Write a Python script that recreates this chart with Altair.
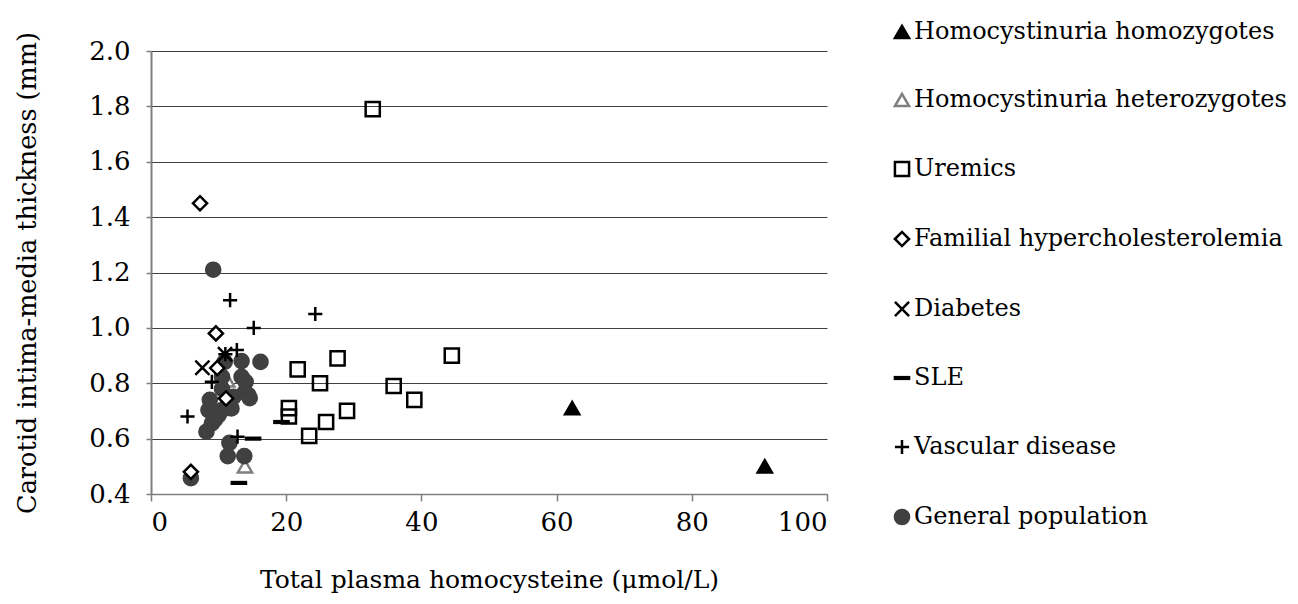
import altair as alt
import pandas as pd

FONT = "DejaVu Serif"

groups = [
    "Homocystinuria homozygotes",
    "Homocystinuria heterozygotes",
    "Uremics",
    "Familial hypercholesterolemia",
    "Diabetes",
    "SLE",
    "Vascular disease",
    "General population",
]

homo_x = [62.3, 90.8]
homo_y = [0.71, 0.50]

hetero_x = [11.3, 13.9]
hetero_y = [0.81, 0.50]

uremic_x = [32.8, 21.7, 27.6, 25.0, 35.9, 44.5, 38.95, 20.4, 20.4, 29.0, 25.9, 23.4]
uremic_y = [1.79, 0.85, 0.89, 0.80, 0.79, 0.90, 0.74, 0.71, 0.68, 0.70, 0.66, 0.61]

fh_x = [7.25, 9.6, 9.8, 11.1, 5.9]
fh_y = [1.45, 0.98, 0.855, 0.745, 0.48]

diab_x = [7.6, 10.95]
diab_y = [0.856, 0.905]

sle_x = [15.1, 19.3, 13.0]
sle_y = [0.60, 0.66, 0.44]

vasc_x = [11.7, 15.2, 24.3, 12.7, 11.0, 9.0, 5.4, 12.8]
vasc_y = [1.10, 1.00, 1.05, 0.92, 0.905, 0.805, 0.68, 0.607]

gen_x = [9.2, 16.2, 13.4, 10.9, 10.5, 13.4, 14.0, 10.5, 13.9, 14.4, 14.6, 12.2,
         8.7, 8.5, 11.9, 10.5, 10.0, 9.5, 9.0, 8.2, 11.6, 11.35, 13.8, 5.9, 11.4]
gen_y = [1.21, 0.877, 0.88, 0.877, 0.823, 0.823, 0.805, 0.78, 0.768, 0.757, 0.746, 0.751,
         0.74, 0.703, 0.709, 0.703, 0.685, 0.67, 0.655, 0.625, 0.585, 0.537, 0.537, 0.457, 0.725]

x_ticks = [0, 20, 40, 60, 80, 100]
y_ticks = [0.4, 0.6, 0.8, 1.0, 1.2, 1.4, 1.6, 1.8, 2.0]

X_PATH = "M-1,-1L1,1M-1,1L1,-1"
PLUS_PATH = "M-1,0L1,0M0,-1L0,1"
DASH_PATH = "M-1,-0.12L1,-0.12L1,0.12L-1,0.12Z"

shapes = ["triangle-up", "triangle-up", "square", "diamond", X_PATH, DASH_PATH, PLUS_PATH, "circle"]
fills = ["#000000", "#ffffff", "transparent", "#ffffff", "transparent", "#000000", "transparent", "#404040"]
strokes = ["#000000", "#7f7f7f", "#000000", "#000000", "#000000", "#000000", "#000000", "#404040"]
sizes = [200, 200, 169, 150, 169, 169, 210, 121]

series = {
    "Homocystinuria heterozygotes": (hetero_x, hetero_y),
    "General population": (gen_x, gen_y),
    "Homocystinuria homozygotes": (homo_x, homo_y),
    "Uremics": (uremic_x, uremic_y),
    "Familial hypercholesterolemia": (fh_x, fh_y),
    "Diabetes": (diab_x, diab_y),
    "SLE": (sle_x, sle_y),
    "Vascular disease": (vasc_x, vasc_y),
}

rows = []
for g, (xs, ys) in series.items():
    for xv, yv in zip(xs, ys):
        rows.append({"group": g, "hcy": xv, "imt": yv})
df = pd.DataFrame(rows)

chart = (
    alt.Chart(df)
    .mark_point(opacity=1, strokeWidth=2.5)
    .encode(
        x=alt.X(
            "hcy:Q",
            scale=alt.Scale(domain=[0, 100], nice=False, zero=False),
            axis=alt.Axis(
                values=x_ticks,
                grid=False,
                title="Total plasma homocysteine (μmol/L)",
                labelFont=FONT, labelFontSize=26, labelColor="#000",
                titleFont=FONT, titleFontSize=25, titleFontWeight="normal", titleColor="#000",
                tickSize=7, tickColor="#7f7f7f", tickWidth=1.5,
                domainColor="#7f7f7f", domainWidth=1.5,
                labelPadding=8, titlePadding=32,
            ),
        ),
        y=alt.Y(
            "imt:Q",
            scale=alt.Scale(domain=[0.4, 2.0], nice=False, zero=False),
            axis=alt.Axis(
                values=y_ticks,
                format=".1f",
                grid=True, gridColor="#404040", gridWidth=1,
                title="Carotid intima-media thickness (mm)",
                labelFont=FONT, labelFontSize=26, labelColor="#000",
                titleFont=FONT, titleFontSize=25.5, titleFontWeight="normal", titleColor="#000",
                tickSize=5, tickColor="#7f7f7f", tickWidth=1.5,
                domainColor="#7f7f7f", domainWidth=2,
                labelPadding=16, titlePadding=48,
            ),
        ),
        shape=alt.Shape("group:N", scale=alt.Scale(domain=groups, range=shapes), title=None),
        fill=alt.Fill("group:N", scale=alt.Scale(domain=groups, range=fills), title=None),
        stroke=alt.Stroke("group:N", scale=alt.Scale(domain=groups, range=strokes), title=None),
        size=alt.Size("group:N", scale=alt.Scale(domain=groups, range=sizes), title=None),
    )
    .properties(
        width=676,
        height=443,
        autosize=alt.AutoSizeParams(type="none"),
        padding={"left": 143, "top": 43, "right": 463, "bottom": 100},
    )
    .configure_view(stroke=None)
    .configure_legend(
        orient="none",
        legendX=739,
        legendY=-31,
        padding=0,
        labelFont=FONT,
        labelFontSize=24,
        labelColor="#000",
        labelLimit=0,
        labelOffset=0,
        rowPadding=44,
        symbolStrokeWidth=2.5,
        symbolOpacity=1,
    )
)

chart.save("out.html", embed_options={"renderer": "svg", "actions": False})
